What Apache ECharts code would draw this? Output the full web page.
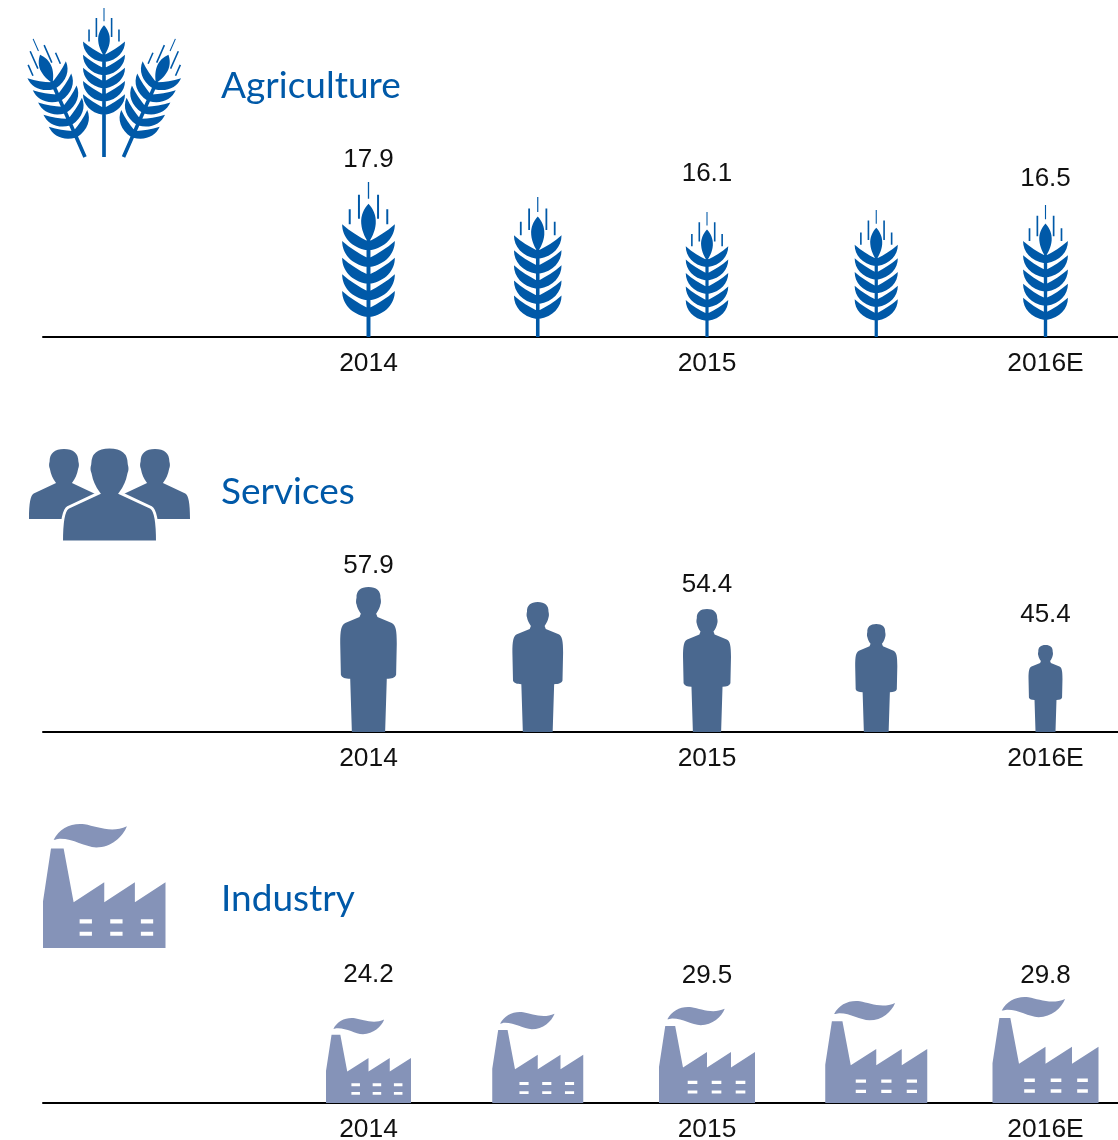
<!DOCTYPE html>
<html>
<head>
<meta charset="utf-8">
<title>Agriculture, Services, Industry</title>
<style>
html,body{margin:0;padding:0;background:#fff;}
#main{width:1118px;height:1140px;}
</style>
<script src="https://cdn.jsdelivr.net/npm/echarts@6/dist/echarts.min.js"></script>
</head>
<body>
<div id="main"></div>
<script>
// x labels, one slot for each icon
var categories = ['2014', '', '2015', '', '2016E'];

// printed numbers (the in-between icons have no number)
var agricultureLabels = [17.9, null, 16.1, null, 16.5];
var servicesLabels = [57.9, null, 54.4, null, 45.4];
var industryLabels = [24.2, null, 29.5, null, 29.8];

// icon height, the icons are not to scale with the printed numbers
var agricultureHeights = [155, 140, 125, 127, 132];
var servicesHeights = [145, 130, 123, 108, 87];
var industryHeights = [85, 91, 96, 102, 106];

// gap between icon top and its number
var agricultureGaps = [9, 0, 25, 0, 13];
var servicesGaps = [8, 0, 11, 0, 17];
var industryGaps = [30, 0, 18, 0, 8];

var BLUE = '#0059a8', SLATE = '#4a688f', LAVENDER = '#8593b8';
var LEFT = 43, STEP = 169.25, FIRST = 368.5, WIDTH = 1118, PLOT_H = 200;
var LABEL_FONT = '"Liberation Sans", Arial, sans-serif';

// one ear of wheat, stem length and thickness can change
function wheatPath(stem, half) {
    var d = '';
    var bottom = 400 + stem;
    // awns
    d += 'M-2 0L2 0L2 50L-2 50Z';
    d += 'M-32 38L-26 38L-26 110L-32 110Z M26 38L32 38L32 110L26 110Z';
    d += 'M-60 82L-54 82L-54 127L-60 127Z M54 82L60 82L60 127L54 127Z';
    // top grain
    d += 'M0 65C14 80 24 100 22 125C20 150 8 170 0 182C-8 170 -20 150 -22 125C-24 100 -14 80 0 65Z';
    // leaves, five pairs
    for (var i = 0; i < 5; i++) {
        var y = 127 + i * 50;
        d += 'M4 ' + (y + 50) + 'C28 ' + (y + 38) + ' 55 ' + (y + 22) + ' 80 ' + y +
             'C80 ' + (y + 38) + ' 52 ' + (y + 70) + ' 4 ' + (y + 78) + 'Z';
        d += 'M-4 ' + (y + 50) + 'L-4 ' + (y + 78) +
             'C-52 ' + (y + 70) + ' -80 ' + (y + 38) + ' -80 ' + y +
             'C-55 ' + (y + 22) + ' -28 ' + (y + 38) + ' -4 ' + (y + 50) + 'Z';
    }
    // stem
    d += 'M-' + half + ' 175L' + half + ' 175L' + half + ' ' + bottom + 'L-' + half + ' ' + bottom + 'Z';
    return d;
}

var PERSON = 'M0 0C24 0 37 12 36 32C38 40 38 48 36 52C34 62 30 70 23 80L27 90L70 108' +
    'C82 114 85 130 85 170L83 263C80 272 70 275 55 275L50 435L-50 435L-55 275' +
    'C-70 275 -80 272 -83 263L-85 170C-85 130 -82 114 -70 108L-27 90L-23 80' +
    'C-30 70 -34 62 -36 52C-38 48 -38 40 -36 32C-37 12 -24 0 0 0Z';

var BUST = 'M0 0C38 0 58 17 58 50C61 60 61 70 57 78C53 100 45 118 32 135L122 177' +
    'C135 185 141 215 141 278L-141 278C-141 215 -135 185 -122 177L-32 135' +
    'C-45 118 -53 100 -57 78C-61 70 -61 60 -58 50C-58 17 -38 0 0 0Z';

var FACTORY = 'M0 232L24 75L62 75L92 234L184 175L184 234L276 175L276 234L368 175L368 370L0 370Z' +
    'M110 285L110 297L147 297L147 285Z M202 285L202 297L239 297L239 285Z M294 285L294 297L331 297L331 285Z' +
    'M110 322L110 334L147 334L147 322Z M202 322L202 334L239 334L239 322Z M294 322L294 334L331 334L331 322Z' +
    'M32 49C50 15 85 -2 125 3C160 9 205 30 252 9C240 40 205 72 160 72C125 70 90 45 50 46C42 46 36 50 32 49Z';

var WHEAT_ASPECT = 0.34, PERSON_ASPECT = 0.39, FACTORY_ASPECT = 1;

function makeData(heights, labels, gaps, aspect) {
    return heights.map(function (h, i) {
        return {
            value: [i, h],
            symbolSize: [h * aspect, '100%'],
            label: { show: labels[i] != null, distance: gaps[i] }
        };
    });
}

function makeSeries(index, path, color, heights, labels, gaps, aspect) {
    return {
        type: 'pictorialBar',
        xAxisIndex: index,
        yAxisIndex: index,
        symbol: 'path://' + path,
        symbolPosition: 'start',
        itemStyle: { color: color },
        label: {
            position: 'top',
            color: '#111',
            fontFamily: LABEL_FONT,
            fontSize: 26,
            formatter: function (p) { return labels[p.dataIndex] == null ? '' : labels[p.dataIndex].toFixed(1); }
        },
        silent: true,
        animation: false,
        data: makeData(heights, labels, gaps, aspect)
    };
}

function makeGrid(baseline) {
    return { left: LEFT, top: baseline - PLOT_H, width: WIDTH - LEFT, height: PLOT_H, outerBoundsMode: 'none' };
}

function makeXAxis(index) {
    return {
        type: 'value',
        gridIndex: index,
        min: (LEFT - FIRST) / STEP,
        max: (WIDTH - FIRST) / STEP,
        splitLine: { show: false },
        axisTick: { show: false },
        axisLine: { onZero: false, lineStyle: { color: '#000', width: 2 } },
        axisLabel: {
            customValues: [0, 2, 4],
            margin: 14,
            color: '#111',
            fontFamily: LABEL_FONT,
            fontSize: 26.4,
            formatter: function (v) { return categories[v]; }
        }
    };
}

function makeYAxis(index) {
    return { type: 'value', gridIndex: index, min: 0, max: PLOT_H, show: false };
}

function makeTitle(text, top) {
    return {
        text: text,
        left: 221,
        top: top,
        padding: 0,
        textStyle: { color: BLUE, fontFamily: 'Lato, sans-serif', fontWeight: 'normal', fontSize: 37 }
    };
}

// the big pictures next to the titles
var bigIcons = [
    { path: wheatPath(86, 7), box: [64, 28, 42, 129], fill: BLUE, rotation: 0.414, origin: [85, 157] },
    { path: wheatPath(86, 7), box: [102.5, 28, 42, 129], fill: BLUE, rotation: -0.414, origin: [123.5, 157] },
    { path: wheatPath(165, 7), box: [83, 8, 42, 149], fill: BLUE },
    { path: BUST, box: [29, 449, 70, 70], fill: SLATE },
    { path: BUST, box: [120, 449, 70, 70], fill: SLATE },
    { path: BUST, box: [61.5, 447, 96, 95], fill: SLATE, stroke: '#fff', lineWidth: 3 },
    { path: FACTORY, box: [43, 824, 122.5, 124], fill: LAVENDER }
];

function renderBigIcon(params) {
    var icon = bigIcons[params.dataIndex];
    var el = {
        type: 'path',
        shape: {
            pathData: icon.path,
            layout: 'cover',
            x: icon.box[0],
            y: icon.box[1],
            width: icon.box[2],
            height: icon.box[3]
        },
        style: { fill: icon.fill, stroke: icon.stroke || null, lineWidth: icon.lineWidth || 0 }
    };
    if (icon.rotation) {
        el.rotation = icon.rotation;
        el.originX = icon.origin[0];
        el.originY = icon.origin[1];
    }
    return el;
}

var myChart = echarts.init(document.getElementById('main'));
myChart.setOption({
    backgroundColor: '#fff',
    animation: false,
    title: [makeTitle('Agriculture', 68), makeTitle('Services', 474), makeTitle('Industry', 881)],
    grid: [makeGrid(337), makeGrid(732), makeGrid(1103)],
    xAxis: [makeXAxis(0), makeXAxis(1), makeXAxis(2)],
    yAxis: [makeYAxis(0), makeYAxis(1), makeYAxis(2)],
    series: [
        makeSeries(0, wheatPath(65, 6), BLUE, agricultureHeights, agricultureLabels, agricultureGaps, WHEAT_ASPECT),
        makeSeries(1, PERSON, SLATE, servicesHeights, servicesLabels, servicesGaps, PERSON_ASPECT),
        makeSeries(2, FACTORY, LAVENDER, industryHeights, industryLabels, industryGaps, FACTORY_ASPECT),
        {
            type: 'custom',
            coordinateSystem: 'none',
            silent: true,
            animation: false,
            renderItem: renderBigIcon,
            data: bigIcons.map(function (icon, i) { return [i]; })
        }
    ]
});
</script>
</body>
</html>
